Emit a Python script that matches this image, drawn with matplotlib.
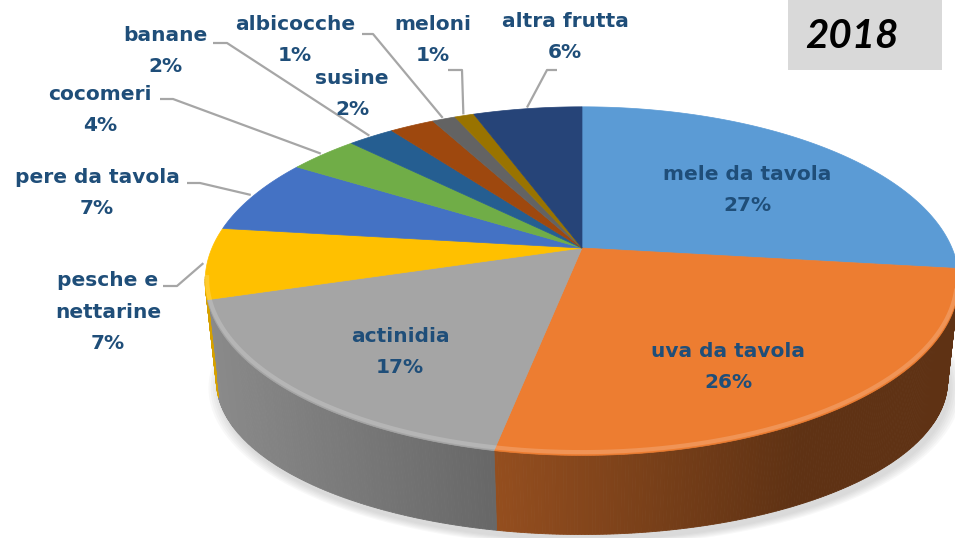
"""
3D-style pie chart: fruit shares, 2018.
"""
import numpy as np
import matplotlib
matplotlib.use("Agg")
import matplotlib.pyplot as plt
from matplotlib.patches import Polygon, Rectangle

# data (shares in %)
fruits = ["mele da tavola", "uva da tavola", "actinidia", "pesche e\nnettarine",
          "pere da tavola", "cocomeri", "banane", "susine", "albicocche",
          "meloni", "altra frutta"]
shares = [26.9, 26.2, 17.2, 6.6, 7.0, 3.6, 2.4, 2.3, 1.2, 1.0, 5.6]
colors = ["#5B9BD5", "#ED7D31", "#A5A5A5", "#FFC000", "#4472C4", "#70AD47",
          "#255E91", "#9E480E", "#636363", "#997300", "#264478"]
year = "2018"

# label anchors in pixels (layout)
label_pos = [(747, 190), (728, 367), (400, 352), (108, 312), (97, 193),
             (100, 110), (165, 51), (352, 94), (295, 40), (433, 40), (565, 37)]
# horizontal stub of leader lines (None = no line)
stubs = [None, None, None, (163, 177, 286), (187, 200, 183), (160, 173, 99),
         (213, 227, 43), None, (362, 373, 34), (448, 462, 70), (557, 547, 70)]

# projection of the disc
CX, CY = 582, 248
A, B, K = 370, 168, 0.19
H, SX, SY = 104, 0.97, 0.88
TXT = "#1F4E79"


def proj(t, r=1.0, bottom=False):
    s, c = np.sin(t), np.cos(t)
    f = 1.0 / (1.0 + K * r * s)
    x = CX + A * r * c * f
    y = CY - B * r * s * f
    if bottom:
        x = CX + SX * (x - CX)
        y = CY + H + SY * (y - CY)
    return x, y


def shade(hex_color, x):
    fac = np.clip(0.84 - (x - 205) / 595 * 0.44, 0.40, 0.9)
    rgb = np.array(matplotlib.colors.to_rgb(hex_color))
    return tuple(rgb * fac)


fig = plt.figure(figsize=(9.55, 5.38), dpi=100)
ax = fig.add_axes([0, 0, 1, 1])
ax.set_xlim(0, 955)
ax.set_ylim(538, 0)
ax.axis("off")

frac = np.array(shares) / sum(shares)
cum = np.concatenate([[0], np.cumsum(frac)])
t_start = np.pi / 2 - 2 * np.pi * cum[:-1]
t_end = np.pi / 2 - 2 * np.pi * cum[1:]

# soft shadow under the pie
tt = np.linspace(0, 2 * np.pi, 300)
bx, by = proj(tt, bottom=True)
for i in range(6):
    sc = 1.0 + 0.006 * i
    ax.add_patch(Polygon(np.column_stack([CX + 3 + (bx - CX) * sc, CY + H + 6 + (by - CY - H) * sc]),
                         closed=True, facecolor="#808080", alpha=0.05, lw=0, zorder=1))

# sides
vis_lo, vis_hi = -np.pi + np.arcsin(K) - 0.03, -np.arcsin(K) + 0.03
for i in range(len(shares)):
    lo, hi = max(t_end[i], vis_lo), min(t_start[i], vis_hi)
    if lo >= hi:
        continue
    steps = np.linspace(lo, hi, max(2, int((hi - lo) / 0.008)))
    for a0, a1 in zip(steps[:-1], steps[1:]):
        x0, y0 = proj(a0)
        x1, y1 = proj(a1)
        x2, y2 = proj(a1, bottom=True)
        x3, y3 = proj(a0, bottom=True)
        col = shade(colors[i], (x0 + x1) / 2)
        ax.add_patch(Polygon([(x0, y0), (x1, y1), (x2, y2), (x3, y3)], closed=True,
                             facecolor=col, edgecolor=col, lw=0.6, zorder=2))

# top face
for i in range(len(shares)):
    n = max(4, int(abs(t_start[i] - t_end[i]) / 0.01))
    ts = np.linspace(t_start[i], t_end[i], n)
    xs, ys = proj(ts)
    pts = np.column_stack([np.r_[CX, xs], np.r_[CY, ys]])
    ax.add_patch(Polygon(pts, closed=True, facecolor=colors[i], edgecolor=colors[i],
                         lw=0.5, zorder=3))

# bevel highlight along the front edge
te = np.linspace(vis_lo + 0.02, vis_hi - 0.02, 200)
ex, ey = proj(te, r=0.995)
ax.plot(ex, ey - 2, color="white", alpha=0.18, lw=3, zorder=4)

# labels and leader lines
for i, name in enumerate(fruits):
    pct = int(round(shares[i]))
    ax.text(label_pos[i][0], label_pos[i][1], f"{name}\n{pct}%", ha="center", va="center",
            color=TXT, fontsize=14.5, fontweight="bold", family="DejaVu Sans",
            linespacing=1.85, zorder=6)
    if stubs[i] is not None:
        xa, xb, yl = stubs[i]
        mid = (t_start[i] + t_end[i]) / 2
        px, py = proj(mid, r=1.01)
        ax.plot([xa, xb, px], [yl, yl, py], color="#A6A6A6", lw=1.6, zorder=5,
                solid_capstyle="butt")

# year box
ax.add_patch(Rectangle((788, 0), 154, 70, facecolor="#D9D9D9", edgecolor="none", zorder=5))
ax.text(852, 36, year, ha="center", va="center", fontsize=29, fontweight="bold",
        fontstyle="italic", family="Lato", color="black", zorder=6)

fig.savefig("out.png", dpi=100)
